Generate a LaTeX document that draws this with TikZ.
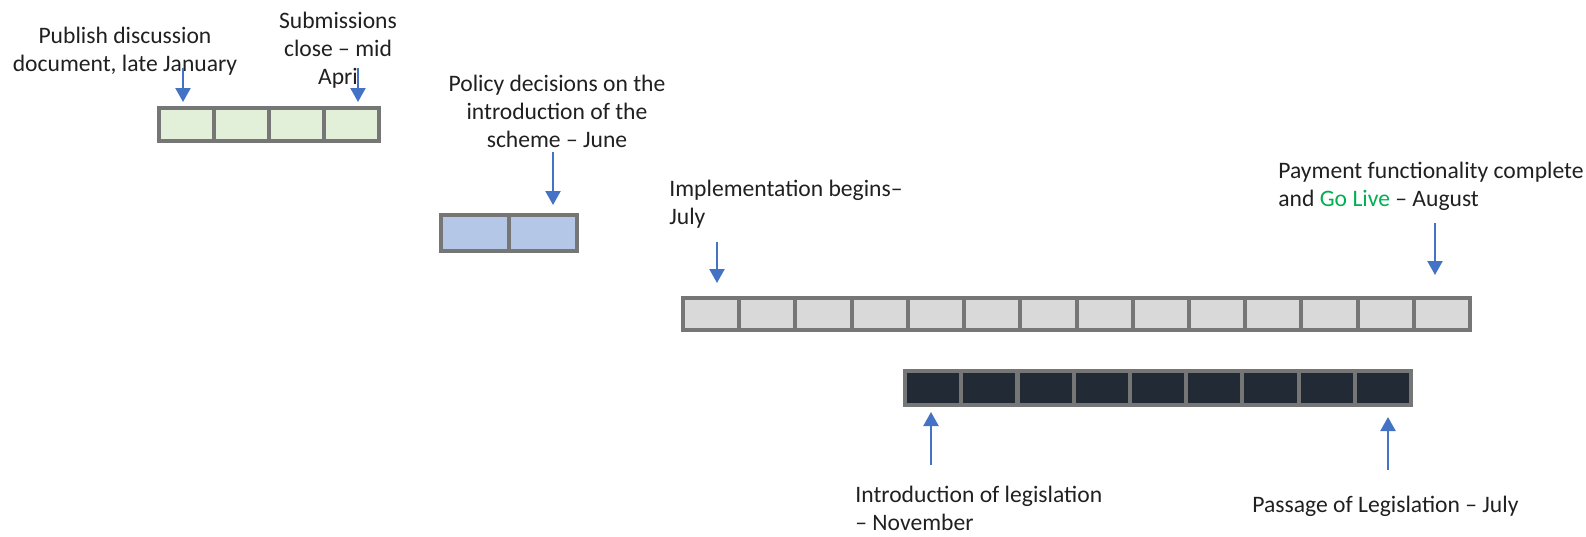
\documentclass[tikz,border=0pt]{standalone}
\usepackage{fontspec}
\setmainfont{Carlito}
\usetikzlibrary{arrows.meta}

\definecolor{cellborder}{HTML}{767676}
\definecolor{greencell}{HTML}{E2F0D9}
\definecolor{bluecell}{HTML}{B4C7E7}
\definecolor{graycell}{HTML}{D9D9D9}
\definecolor{darkcell}{HTML}{222A35}
\definecolor{arrowblue}{HTML}{4472C4}
\definecolor{golive}{HTML}{00B050}
\definecolor{textgray}{HTML}{202020}

\begin{document}
\begin{tikzpicture}[x=0.5pt,y=-0.5pt]

\tikzstyle{cell} = [rectangle,draw=cellborder,line width=2pt,inner sep=0pt]
\tikzstyle{note} = [inner sep=0pt,font=\fontsize{11.8}{14}\selectfont,text=textgray]
\tikzstyle{pointer} = [-{Triangle[width=7.5pt,length=7pt]},line width=1.1pt,draw=arrowblue]

\useasboundingbox (0,0) rectangle (1586,536);

% consultation
\node[cell,fill=greencell,minimum width=27.5pt,minimum height=16.5pt](g1) at (186.5,124.5){};
\node[cell,fill=greencell,minimum width=27.5pt,minimum height=16.5pt](g2) at (241.5,124.5){};
\node[cell,fill=greencell,minimum width=27.5pt,minimum height=16.5pt](g3) at (296.5,124.5){};
\node[cell,fill=greencell,minimum width=27.5pt,minimum height=16.5pt](g4) at (351.5,124.5){};

% policy
\node[cell,fill=bluecell,minimum width=34pt,minimum height=18pt](b1) at (475,233){};
\node[cell,fill=bluecell,minimum width=34pt,minimum height=18pt](b2) at (543,233){};

% implementation
\node[cell,fill=graycell,minimum width=28.1pt,minimum height=16pt](p1) at (711.1,314){};
\node[cell,fill=graycell,minimum width=28.1pt,minimum height=16pt](p2) at (767.3,314){};
\node[cell,fill=graycell,minimum width=28.1pt,minimum height=16pt](p3) at (823.5,314){};
\node[cell,fill=graycell,minimum width=28.1pt,minimum height=16pt](p4) at (879.8,314){};
\node[cell,fill=graycell,minimum width=28.1pt,minimum height=16pt](p5) at (936.0,314){};
\node[cell,fill=graycell,minimum width=28.1pt,minimum height=16pt](p6) at (992.2,314){};
\node[cell,fill=graycell,minimum width=28.1pt,minimum height=16pt](p7) at (1048.4,314){};
\node[cell,fill=graycell,minimum width=28.1pt,minimum height=16pt](p8) at (1104.6,314){};
\node[cell,fill=graycell,minimum width=28.1pt,minimum height=16pt](p9) at (1160.8,314){};
\node[cell,fill=graycell,minimum width=28.1pt,minimum height=16pt](p10) at (1217.0,314){};
\node[cell,fill=graycell,minimum width=28.1pt,minimum height=16pt](p11) at (1273.3,314){};
\node[cell,fill=graycell,minimum width=28.1pt,minimum height=16pt](p12) at (1329.5,314){};
\node[cell,fill=graycell,minimum width=28.1pt,minimum height=16pt](p13) at (1385.7,314){};
\node[cell,fill=graycell,minimum width=28.1pt,minimum height=16pt](p14) at (1441.9,314){};

% legislation
\node[cell,fill=darkcell,minimum width=28.1pt,minimum height=17pt](d1) at (933.1,388){};
\node[cell,fill=darkcell,minimum width=28.1pt,minimum height=17pt](d2) at (989.3,388){};
\node[cell,fill=darkcell,minimum width=28.1pt,minimum height=17pt](d3) at (1045.6,388){};
\node[cell,fill=darkcell,minimum width=28.1pt,minimum height=17pt](d4) at (1101.8,388){};
\node[cell,fill=darkcell,minimum width=28.1pt,minimum height=17pt](d5) at (1158.0,388){};
\node[cell,fill=darkcell,minimum width=28.1pt,minimum height=17pt](d6) at (1214.2,388){};
\node[cell,fill=darkcell,minimum width=28.1pt,minimum height=17pt](d7) at (1270.4,388){};
\node[cell,fill=darkcell,minimum width=28.1pt,minimum height=17pt](d8) at (1326.7,388){};
\node[cell,fill=darkcell,minimum width=28.1pt,minimum height=17pt](d9) at (1382.9,388){};

% milestones
\node[note,align=center,anchor=north](publish) at (125,27){Publish discussion\\document, late January};
\node[note,align=center,anchor=north](submit) at (338,12){Submissions\\close – mid\\Apri};
\node[note,align=center,anchor=north](policy) at (557,75){Policy decisions on the\\introduction of the\\scheme – June};
\node[note,align=left,anchor=north west](implement) at (669,180){Implementation begins–\\July};
\node[note,align=left,anchor=north west](golive) at (1278,162){Payment functionality complete\\and \textcolor{golive}{Go Live} – August};
\node[note,align=left,anchor=north west](intro) at (855,486){Introduction of legislation\\– November};
\node[note,anchor=north west](passage) at (1252,496){Passage of Legislation – July};

\coordinate (t1) at (183,68);
\coordinate (t2) at (358,68);
\coordinate (t3) at (553,152);
\coordinate (t4) at (717,242);
\coordinate (t5) at (1435,223);
\coordinate (t6) at (931,465);
\coordinate (t7) at (1388,470);

\draw[pointer,shorten >=2pt] (t1) -- (t1 |- g1.north);
\draw[pointer,shorten >=2pt] (t2) -- (t2 |- g4.north);
\draw[pointer,shorten >=4pt] (t3) -- (t3 |- b2.north);
\draw[pointer,shorten >=6.5pt] (t4) -- (t4 |- p1.north);
\draw[pointer,shorten >=10.5pt] (t5) -- (t5 |- p14.north);
\draw[pointer,shorten >=2.5pt] (t6) -- (t6 |- d1.south);
\draw[pointer,shorten >=5pt] (t7) -- (t7 |- d9.south);

\end{tikzpicture}
\end{document}
